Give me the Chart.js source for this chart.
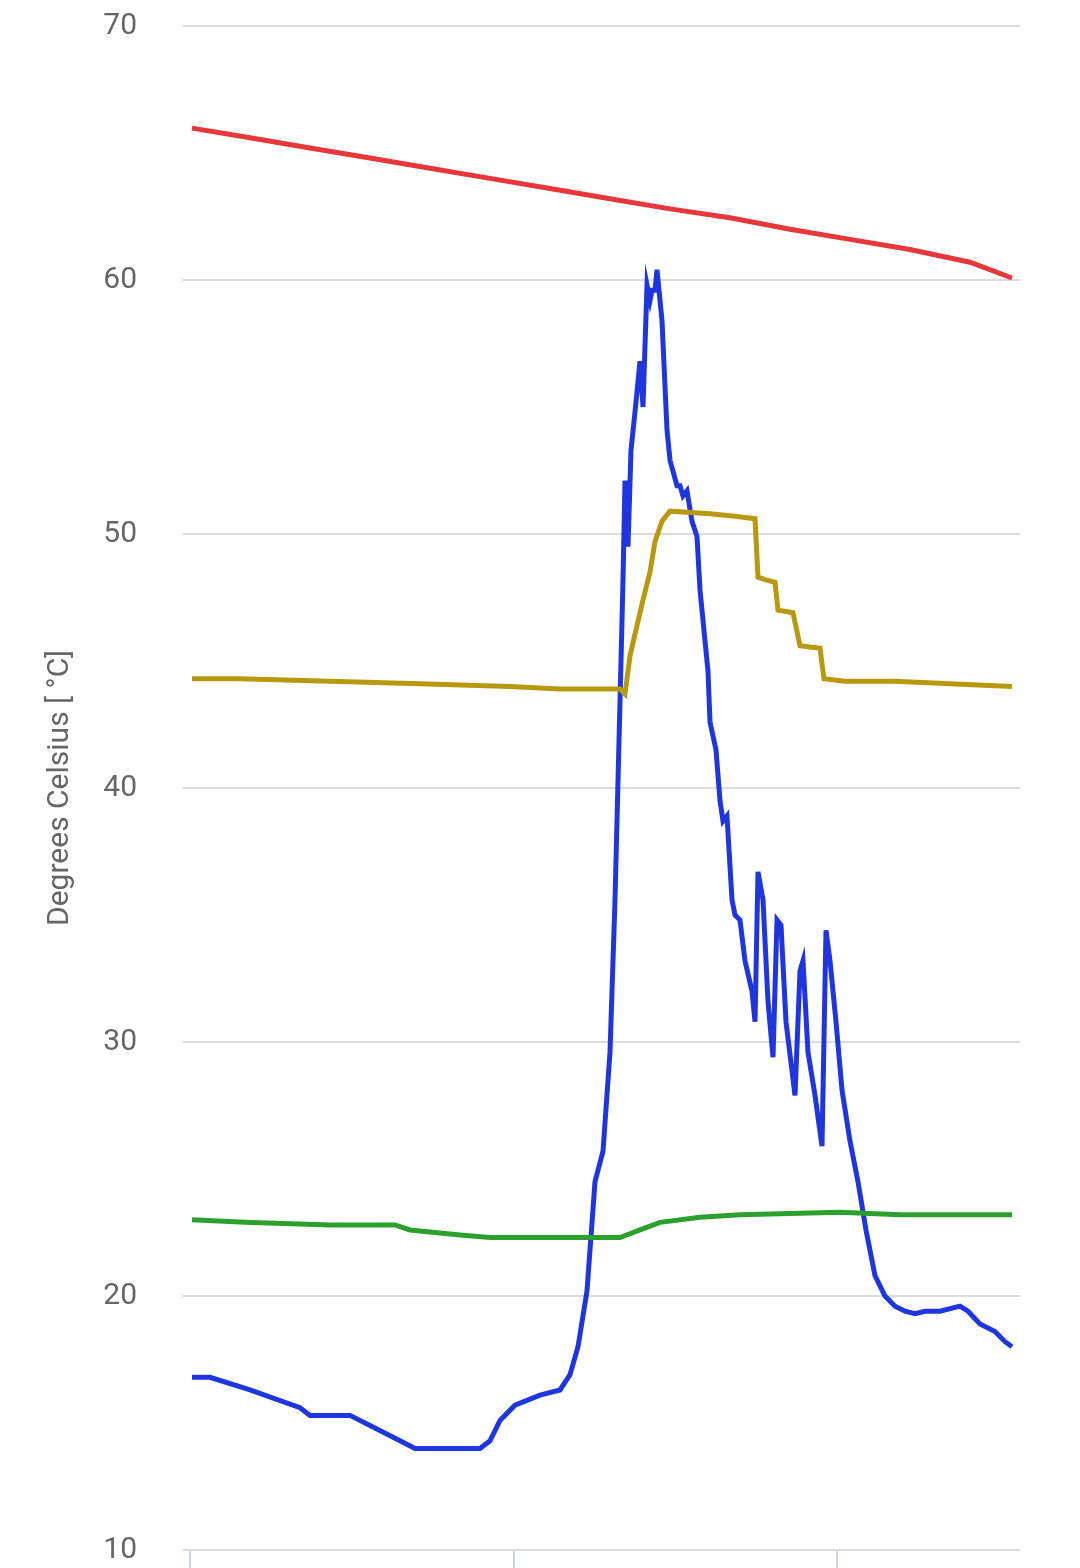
<!DOCTYPE html>
<html><head><meta charset="utf-8">
<script src="https://cdn.jsdelivr.net/npm/chart.js@4/dist/chart.umd.min.js"></script>
<style>html,body{margin:0;padding:0;background:#fff;overflow:hidden;height:1568px}#w{width:1080px;height:1652px;margin-top:-38px}</style>
</head><body><div id="w"><canvas id="c"></canvas></div>
<script>
const redX=[2,60,120,180,240,300,360,420,480,540,600,660,720,780,822];
const redY=[65.98,65.6,65.2,64.8,64.4,64.0,63.6,63.2,62.8,62.45,62.0,61.6,61.2,60.7,60.08];
const blueX=[2,20,60,110,120,160,180,210,225,290,300,310,325,350,370,380,388,397,405,413,420,425,430,433,435,438,441,445,450,453,457,460,462,465,467,472,477,480,487,490,493,497,502,507,510,515,518,520,526,530,533,537,542,545,550,555,562,565,568,573,578,583,587,591,596,605,610,613,618,625,632,636,640,646,652,660,668,676,685,695,705,715,725,735,750,770,778,790,805,815,822];
const blueY=[16.8,16.8,16.3,15.6,15.3,15.3,14.9,14.3,14.0,14.0,14.3,15.1,15.7,16.1,16.3,16.9,18.0,20.2,24.5,25.7,29.6,35.6,43.4,48.2,52.1,49.5,53.3,54.8,56.8,55.0,59.8,59.2,59.6,59.6,60.4,58.4,54.1,52.9,51.9,51.9,51.5,51.7,50.5,49.9,47.8,45.8,44.6,42.6,41.5,39.5,38.7,38.9,35.6,35.0,34.8,33.2,32.0,30.8,36.7,35.6,31.6,29.4,34.8,34.6,30.8,27.9,32.8,33.2,29.6,27.9,25.9,34.4,33.2,30.8,28.1,26.1,24.5,22.6,20.8,20.0,19.6,19.4,19.3,19.4,19.4,19.6,19.4,18.9,18.6,18.2,18.0];
const goldX=[2,50,140,230,320,370,430,435,440,447,453,460,465,472,480,520,545,565,568,575,585,588,603,610,630,634,655,705,760,822];
const goldY=[44.3,44.3,44.2,44.1,44.0,43.9,43.9,43.7,45.2,46.4,47.4,48.5,49.7,50.5,50.9,50.8,50.7,50.6,48.3,48.2,48.1,47.0,46.9,45.6,45.5,44.3,44.2,44.2,44.1,44.0];
const greenX=[2,55,140,205,220,270,300,330,370,430,450,470,510,550,650,710,822];
const greenY=[23.0,22.9,22.8,22.8,22.6,22.4,22.3,22.3,22.3,22.3,22.6,22.9,23.1,23.2,23.3,23.2,23.2];
const yTicks=[10,20,30,40,50,60,70];
const pts=(xs,ys)=>xs.map((x,i)=>({x:x,y:ys[i]}));
const ds=(xs,ys,c)=>({data:pts(xs,ys),borderColor:c,borderWidth:5,pointRadius:0,tension:0,fill:false});
new Chart(document.getElementById('c'),{type:'line',
data:{datasets:[ds(redX,redY,'#e8373a'),ds(goldX,goldY,'#b8980f'),ds(greenX,greenY,'#2ca02c'),ds(blueX,blueY,'#1f35e0')]},
options:{responsive:true,maintainAspectRatio:false,animation:false,
layout:{padding:{top:0,right:60,left:0,bottom:0}},
plugins:{legend:{display:false},tooltip:{enabled:false}},
scales:{
x:{type:'linear',min:-7,max:830,border:{display:false},
 ticks:{display:false,stepSize:323.5},
 afterBuildTicks:s=>{s.ticks=[{value:0},{value:323.5},{value:647}];},
 grid:{drawOnChartArea:false,drawTicks:true,tickLength:19,color:'#c9d5ea',lineWidth:2},
 afterFit:s=>{s.height=19;}},
y:{min:10,max:70,border:{display:false},
 afterBuildTicks:s=>{s.ticks=yTicks.map(v=>({value:v}));},
 ticks:{color:'#666',font:{family:'Roboto',size:30},padding:46},
 grid:{color:'#dcdcdc',lineWidth:2,drawTicks:false},
 title:{display:true,text:'Degrees Celsius [ °C]',color:'#666',font:{family:'Roboto',size:30},padding:{top:42,bottom:0}},
 afterFit:s=>{s.width=183;}}
}}});
</script></body></html>
